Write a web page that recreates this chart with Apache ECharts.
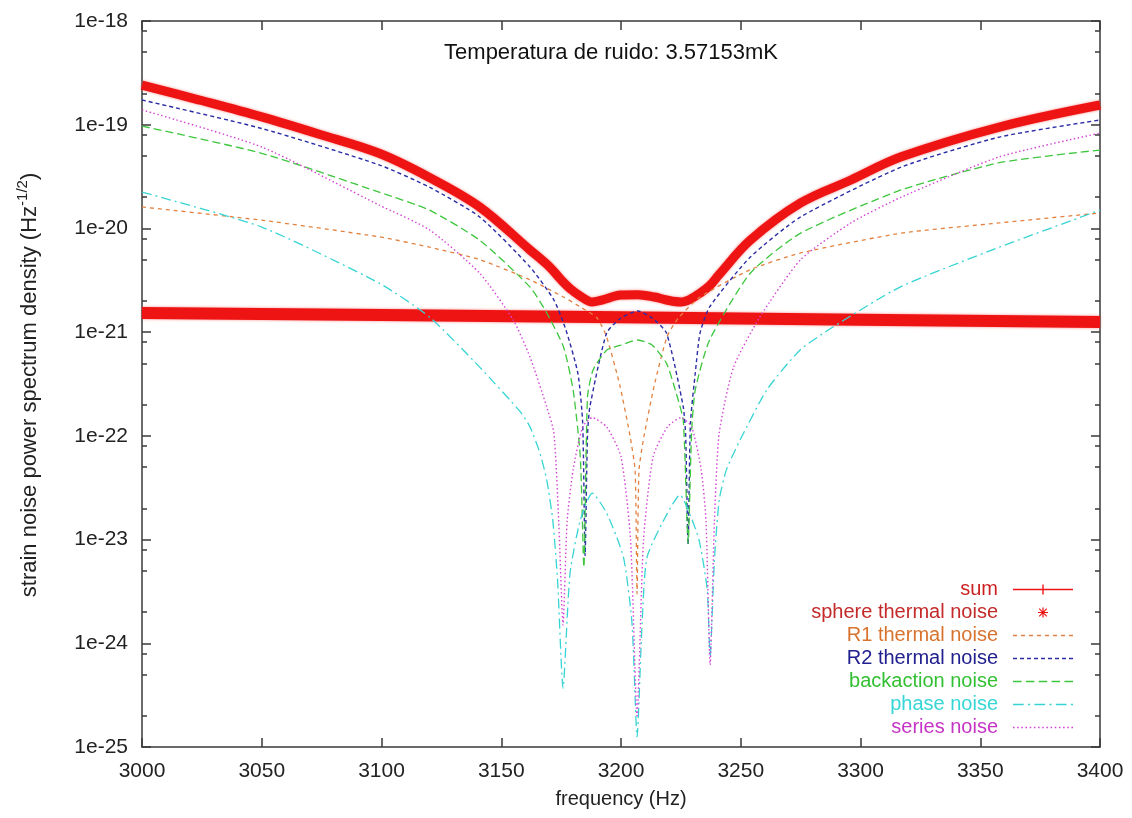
<!DOCTYPE html>
<html>
<head>
<meta charset="utf-8">
<script type="text/javascript" src="https://cdn.jsdelivr.net/npm/echarts@6/dist/echarts.min.js"></script>
</head>
<body style="margin: 0; background: #fff">
<div id="container" style="width: 1132px; height: 818px"></div>
<script type="text/javascript">
    // values (frequency in Hz, strain noise in Hz^-1/2)
    var sumFreq = [3000, 3024, 3050, 3074, 3099, 3120, 3141, 3162, 3170, 3175, 3179, 3183, 3188, 3192, 3200, 3207, 3214, 3219, 3225, 3229, 3233, 3237, 3241, 3254, 3275, 3296, 3317, 3358, 3400];
    var sumVal = [2.41e-19, 1.73e-19, 1.19e-19, 8.1e-20, 5.3e-20, 3.1e-20, 1.61e-20, 6.2e-21, 4.3e-21, 3.2e-21, 2.6e-21, 2.23e-21, 1.95e-21, 2.04e-21, 2.28e-21, 2.3e-21, 2.18e-21, 2.04e-21, 1.95e-21, 2.08e-21, 2.38e-21, 2.8e-21, 3.6e-21, 7.7e-21, 1.76e-20, 2.93e-20, 4.9e-20, 9.5e-20, 1.55e-19];

    var sphereFreq = [3000, 3100, 3200, 3300, 3400];
    var sphereVal = [1.53e-21, 1.46e-21, 1.39e-21, 1.32e-21, 1.25e-21];

    var r1Freq = [3000, 3050, 3099, 3120, 3141, 3162, 3176, 3183, 3190, 3194, 3199.6, 3203.8, 3205.9, 3206.7, 3207.5, 3209.6, 3213.8, 3219.2, 3224, 3233, 3254, 3275, 3317, 3358, 3400];
    var r1Val = [1.61e-20, 1.2e-20, 8.3e-21, 6.6e-21, 5.0e-21, 3.2e-21, 2.18e-21, 1.75e-21, 1.37e-21, 9.0e-22, 3.0e-22, 9.9e-23, 4.6e-23, 3e-24, 4.6e-23, 9.9e-23, 3.0e-22, 9.0e-22, 1.37e-21, 2.18e-21, 4.0e-21, 5.8e-21, 9.0e-21, 1.13e-20, 1.41e-20];

    var r2Freq = [3000, 3050, 3099, 3120, 3141, 3162, 3172, 3177, 3182, 3184, 3185, 3186, 3187, 3194, 3200, 3207, 3213, 3219, 3226, 3227, 3228, 3229, 3231, 3233, 3237, 3254, 3275, 3317, 3358, 3400];
    var r2Val = [1.73e-19, 9.2e-20, 4.1e-20, 2.5e-20, 1.29e-20, 4.25e-21, 2.04e-21, 1.05e-21, 4.0e-22, 1.33e-22, 7e-24, 1.0e-22, 1.9e-22, 9.8e-22, 1.37e-21, 1.6e-21, 1.37e-21, 9.8e-22, 1.9e-22, 1.0e-22, 9e-24, 1.33e-22, 4.0e-22, 9.8e-22, 1.75e-21, 5.3e-21, 1.29e-20, 3.9e-20, 7.6e-20, 1.11e-19];

    var backFreq = [3000, 3050, 3099, 3120, 3141, 3162, 3169, 3176, 3180, 3183, 3184.5, 3186, 3188.3, 3194, 3200, 3207, 3213, 3219, 3223, 3226, 3228, 3229.5, 3231, 3237, 3254, 3275, 3317, 3358, 3400];
    var backVal = [9.7e-20, 5.3e-20, 2.24e-20, 1.5e-20, 7.7e-21, 2.72e-21, 1.53e-21, 7.2e-22, 2.77e-22, 6.3e-23, 5.4e-24, 2.37e-22, 4.3e-22, 6.7e-22, 7.5e-22, 8.4e-22, 7.5e-22, 5.0e-22, 2.6e-22, 1.4e-22, 9.2e-24, 1.1e-22, 2.77e-22, 8.4e-22, 3.7e-21, 9.0e-21, 2.35e-20, 4.3e-20, 5.7e-20];

    var phaseFreq = [3000, 3050, 3099, 3120, 3141, 3158, 3162, 3166, 3169, 3171.5, 3173.5, 3175.8, 3178.7, 3183, 3188, 3194, 3201, 3204.6, 3206.7, 3208.8, 3210.9, 3219.4, 3224.6, 3229, 3232.6, 3236, 3237.2, 3239, 3241, 3244, 3249.7, 3261, 3274.7, 3288.5, 3316.5, 3358, 3400];
    var phaseVal = [2.24e-20, 1.03e-20, 2.97e-21, 1.4e-21, 4.6e-22, 1.7e-22, 1.22e-22, 7e-23, 3.75e-23, 1.55e-23, 4.1e-24, 3.7e-25, 4.7e-24, 1.54e-23, 2.8e-23, 1.8e-23, 6.8e-24, 1.55e-24, 1.25e-25, 1.55e-24, 6.8e-24, 1.8e-23, 2.7e-23, 1.7e-23, 9.9e-24, 3.3e-24, 7.4e-25, 6.3e-24, 2.4e-23, 4.7e-23, 9.1e-23, 2.8e-22, 6.7e-22, 1.12e-21, 2.72e-21, 6.6e-21, 1.5e-20];

    var seriesFreq = [3000, 3050, 3099, 3120, 3141, 3155, 3162, 3169, 3172, 3174, 3175.8, 3177.5, 3180, 3184, 3188, 3194, 3200, 3204, 3206.7, 3209.4, 3213.4, 3219.4, 3225, 3229.5, 3233.5, 3235.5, 3237.2, 3239, 3241, 3247, 3258, 3275, 3296, 3317, 3358, 3400];
    var seriesVal = [1.39e-19, 6.1e-20, 1.68e-20, 9.7e-21, 3.7e-21, 1.31e-21, 5.75e-22, 1.9e-22, 1.06e-22, 1.5e-23, 1.5e-24, 1.5e-23, 4.7e-23, 1.22e-22, 1.5e-22, 1.22e-22, 6.3e-23, 9.9e-24, 2e-25, 9.9e-24, 6.3e-23, 1.22e-22, 1.5e-22, 1.22e-22, 4.7e-23, 1.5e-23, 6.2e-25, 1.5e-23, 1.06e-22, 4.6e-22, 1.4e-21, 5.0e-21, 1.13e-20, 2.0e-20, 4.9e-20, 8.3e-20];

    var xTicks = [3000, 3400, 50];
    var yDecades = [-25, -18];
    var minorMantissas = [2, 5, 8];
    var titleText = 'Temperatura de ruido: 3.57153mK';
    var yName = 'strain noise power spectrum density (Hz{sup|-1/2})';

    function pairs(f, v) {
        var out = [];
        for (var i = 0; i < f.length; i++) {
            out.push([f[i], v[i]]);
        }
        return out;
    }

    var yMin = Math.pow(10, yDecades[0]), yMax = Math.pow(10, yDecades[1]);
    var majorVals = [], minorVals = [];
    for (var e = yDecades[0]; e <= yDecades[1]; e++) {
        majorVals.push(Math.pow(10, e));
        if (e === yDecades[1]) break;
        for (var k = 0; k < minorMantissas.length; k++) {
            minorVals.push(minorMantissas[k] * Math.pow(10, e));
        }
    }

    // legend sample: dashes built as little filled rects, 60px wide
    function dashIcon(pattern) {
        var s = 'path://';
        var x = 0, i = 0;
        while (x < 60) {
            var len = pattern[i % pattern.length];
            if (i % 2 === 0) {
                var x2 = Math.min(60, x + len);
                s += 'M' + x + ',0H' + x2 + 'V1.3H' + x + 'Z';
            }
            x += len;
            i++;
        }
        return s;
    }
    var plusIcon = 'path://M0,4.2H29.3V0H30.7V4.2H60V5.8H30.7V10H29.3V5.8H0Z';
    var starIcon = 'path://M4.4,0H5.6V10H4.4Z M0,4.4H10V5.6H0Z M0.8,1.6L1.6,0.8L9.2,8.4L8.4,9.2Z M8.4,0.8L9.2,1.6L1.6,9.2L0.8,8.4Z';

    var font = 'Liberation Sans, Arial, Helvetica, sans-serif';
    var axisCol = '#3a3a3a';
    var red = '#ef1414';

    var dashR1 = [4, 4], dashR2 = [4, 3], dashBack = [8, 4], dashPhase = [10, 4, 2, 4], dashSeries = [1.5, 2.5];

    var myChart = echarts.init(document.getElementById('container'), null, {renderer: 'canvas'});

    var axisLineStyle = {color: axisCol, width: 1.5};

    function logAxis(pos, showLabels) {
        return {
            type: 'log', logBase: 10, min: yMin, max: yMax, splitNumber: 7, position: pos,
            axisLine: {show: true, onZero: false, lineStyle: axisLineStyle},
            axisTick: {show: true, inside: true, length: 9, lineStyle: axisLineStyle, customValues: majorVals},
            axisLabel: {
                show: showLabels, margin: 14, fontSize: 21, fontFamily: font, color: '#222',
                customValues: majorVals,
                formatter: function (v) { return '1e' + Math.round(Math.log10(v)); }
            },
            splitLine: {show: false}
        };
    }
    function minorAxis(pos) {
        return {
            type: 'log', logBase: 10, min: yMin, max: yMax, position: pos,
            axisLine: {show: false},
            axisTick: {show: true, inside: true, length: 5, lineStyle: axisLineStyle, customValues: minorVals},
            axisLabel: {show: false},
            splitLine: {show: false}
        };
    }

    var option = {
        animation: false,
        grid: {left: 142, right: 32, top: 21, bottom: 71, outerBoundsMode: 'none', containLabel: false},
        graphic: [{
            type: 'text', x: 611, y: 53, z: 100,
            style: {text: titleText, font: '22px ' + font, fill: '#111', align: 'center', verticalAlign: 'middle'}
        }, {
            type: 'text', x: 30, y: 385, rotation: Math.PI / 2, z: 100,
            style: {
                text: yName, fontSize: 22, fontFamily: font, fill: '#222', align: 'center', verticalAlign: 'middle',
                rich: {sup: {fontSize: 15, fontFamily: font, fill: '#222', padding: [0, 0, 15, 0]}}
            }
        }],
        legend: {
            orient: 'vertical', right: 54, top: 573, align: 'right',
            itemWidth: 60, itemHeight: 10, itemGap: 0,
            textStyle: {fontSize: 20, fontFamily: font, lineHeight: 23, padding: [0, 10, 0, 0]},
            data: [
                {name: 'sum', icon: plusIcon, itemStyle: {color: red}, textStyle: {color: '#cc1f1f'}},
                {name: 'sphere thermal noise', icon: starIcon, itemStyle: {color: red}, textStyle: {color: '#c42a2a'}},
                {name: 'R1 thermal noise', icon: dashIcon(dashR1), textStyle: {color: '#d8732e'}},
                {name: 'R2 thermal noise', icon: dashIcon(dashR2), textStyle: {color: '#20208e'}},
                {name: 'backaction noise', icon: dashIcon(dashBack), textStyle: {color: '#34c034'}},
                {name: 'phase noise', icon: dashIcon(dashPhase), textStyle: {color: '#36d6d6'}},
                {name: 'series noise', icon: dashIcon(dashSeries), textStyle: {color: '#c634c6'}}
            ]
        },
        xAxis: [{
            type: 'value', min: xTicks[0], max: xTicks[1], interval: xTicks[2],
            name: 'frequency (Hz)', nameLocation: 'middle', nameGap: 42,
            nameTextStyle: {fontSize: 20, fontFamily: font, color: '#222'},
            axisLine: {show: true, onZero: false, lineStyle: axisLineStyle},
            axisTick: {show: true, inside: true, length: 9, lineStyle: axisLineStyle},
            axisLabel: {
                margin: 14, fontSize: 21, fontFamily: font, color: '#222',
                showMinLabel: true, showMaxLabel: true,
                formatter: function (v) { return String(v); }
            },
            splitLine: {show: false}
        }, {
            type: 'value', position: 'top', min: xTicks[0], max: xTicks[1], interval: xTicks[2],
            axisLine: {show: true, onZero: false, lineStyle: axisLineStyle},
            axisTick: {show: true, inside: true, length: 9, lineStyle: axisLineStyle},
            axisLabel: {show: false},
            splitLine: {show: false}
        }],
        yAxis: [
            logAxis('left', true),
            logAxis('right', false),
            minorAxis('left'),
            minorAxis('right')
        ],
        series: [
            {
                name: 'sum', type: 'line', data: pairs(sumFreq, sumVal), symbol: 'none', smooth: 0.35,
                color: red, lineStyle: {width: 9, color: red, shadowBlur: 3, shadowColor: 'rgba(240,60,60,0.6)'}
            },
            {
                name: 'sphere thermal noise', type: 'line', data: pairs(sphereFreq, sphereVal), symbol: 'none',
                color: red, lineStyle: {width: 12, color: red, shadowBlur: 3, shadowColor: 'rgba(240,60,60,0.6)'}
            },
            {
                name: 'R1 thermal noise', type: 'line', data: pairs(r1Freq, r1Val), symbol: 'none', smooth: 0.2,
                color: '#e2813f', lineStyle: {width: 1.3, color: '#e2813f', type: dashR1}
            },
            {
                name: 'R2 thermal noise', type: 'line', data: pairs(r2Freq, r2Val), symbol: 'none', smooth: 0.2,
                color: '#2c2ca6', lineStyle: {width: 1.4, color: '#2c2ca6', type: dashR2}
            },
            {
                name: 'backaction noise', type: 'line', data: pairs(backFreq, backVal), symbol: 'none', smooth: 0.2,
                color: '#3ec63e', lineStyle: {width: 1.3, color: '#3ec63e', type: dashBack}
            },
            {
                name: 'phase noise', type: 'line', data: pairs(phaseFreq, phaseVal), symbol: 'none', smooth: 0.2,
                color: '#38d4d4', lineStyle: {width: 1.3, color: '#38d4d4', type: dashPhase}
            },
            {
                name: 'series noise', type: 'line', data: pairs(seriesFreq, seriesVal), symbol: 'none', smooth: 0.2,
                color: '#d444d4', lineStyle: {width: 1.4, color: '#d444d4', type: dashSeries}
            }
        ]
    };

    myChart.setOption(option);
    window.addEventListener('resize', myChart.resize);
</script>
</body>
</html>
